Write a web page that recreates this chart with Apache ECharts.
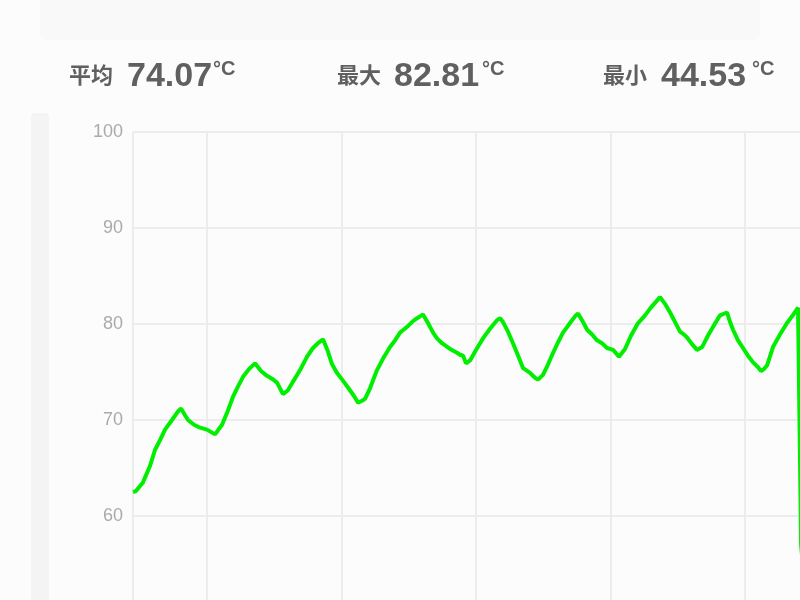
<!DOCTYPE html>
<html>
<head>
<meta charset="utf-8">
<script src="https://cdn.jsdelivr.net/npm/echarts@6/dist/echarts.min.js"></script>
<style>
html,body{margin:0;padding:0;width:800px;height:600px;overflow:hidden;background:#fcfcfc;}
#card{position:absolute;left:40px;top:-10px;width:720px;height:50px;background:#f9f9f9;border-radius:6px;}
#band{position:absolute;left:31px;top:113px;width:18px;height:600px;background:#f4f4f4;border-radius:4px;}
#chart{position:absolute;left:0;top:0;width:1000px;height:760px;}
.lbl{position:absolute;font-family:"Noto Sans CJK SC",sans-serif;font-weight:700;font-size:22px;line-height:22px;color:#606060;white-space:nowrap;}
.num{position:absolute;font-family:"Liberation Sans",Arial,sans-serif;font-weight:700;font-size:34px;line-height:34px;color:#606060;white-space:nowrap;}
.unit{position:absolute;font-family:"Liberation Sans",Arial,sans-serif;font-weight:700;font-size:20px;line-height:20px;color:#606060;white-space:nowrap;}
</style>
</head>
<body>
<div id="card"></div>
<div id="band"></div>
<div id="chart"></div>
<div id="stats"></div>
<script>
// ---- data ----
var statLabels = ['平均', '最大', '最小'];
var statValues = ['74.07', '82.81', '44.53'];
var statUnit = '°C';

var yTicks = [40, 50, 60, 70, 80, 90, 100];

var times = [4.5,4.72,5.24,5.76,6.14,6.51,6.88,7.40,7.85,8.07,
8.37,8.59,9.04,9.48,10.00,10.60,11.12,11.56,11.93,12.31,
12.68,13.12,13.57,14.02,14.46,14.83,15.21,15.65,16.02,16.40,
16.92,17.44,17.88,18.25,18.63,19.00,19.30,19.67,20.11,20.63,
20.93,21.23,21.53,21.75,22.12,22.64,23.09,23.61,23.98,24.35,
24.95,25.32,25.62,25.84,26.06,26.43,26.81,27.10,27.47,28.07,
28.59,28.81,29.04,29.26,29.56,30.00,30.52,31.04,31.56,31.79,
32.01,32.38,32.75,33.13,33.50,34.02,34.39,34.61,34.98,35.36,
35.73,36.10,36.47,36.99,37.36,37.59,37.88,38.26,38.63,39.00,
39.37,39.74,40.19,40.63,41.08,41.53,42.05,42.57,42.94,43.31,
43.68,44.05,44.43,44.80,45.17,45.47,45.69,46.06,46.43,46.81,
47.25,47.62,47.92,48.14,48.66,48.89,49.11,49.48,49.85,50.22,
50.60,50.97,51.19,51.41,51.64,52.08,52.60,53.12,53.50,53.94,
54.17,54.6,55.3,56.2];

var temps = [62.5,62.6,63.5,65.2,66.9,67.9,69.0,70.0,70.9,71.2,
70.5,70.0,69.5,69.2,69.0,68.5,69.5,71.0,72.4,73.5,
74.5,75.3,75.9,75.1,74.6,74.3,73.9,72.7,73.1,74.0,
75.2,76.6,77.5,78.0,78.4,77.1,75.8,74.9,74.1,73.1,
72.5,71.8,72.0,72.2,73.3,75.2,76.4,77.6,78.3,79.1,
79.8,80.3,80.6,80.8,81.0,80.1,79.1,78.5,78.0,77.4,
77.0,76.8,76.7,75.9,76.2,77.3,78.5,79.5,80.4,80.6,
80.2,79.2,78.0,76.7,75.4,74.9,74.4,74.2,74.7,75.8,
77.0,78.1,79.1,80.1,80.8,81.1,80.4,79.4,78.9,78.3,
78.0,77.5,77.3,76.6,77.4,78.8,80.1,80.9,81.6,82.2,
82.8,82.1,81.2,80.2,79.2,78.9,78.6,77.9,77.3,77.6,
78.8,79.7,80.4,80.9,81.2,80.2,79.4,78.3,77.5,76.7,
76.0,75.5,75.1,75.3,75.7,77.6,78.9,80.1,80.8,81.7,
57.0,49.8,44.53,46.0];

// ---- stats header ----
var statPos = [[69, 127, 213], [337, 394, 482], [603, 661, 752]];
var stats = document.getElementById('stats');
statLabels.forEach(function (l, i) {
  var a = document.createElement('div'); a.className = 'lbl'; a.textContent = l;
  a.style.left = statPos[i][0] + 'px'; a.style.top = '62px'; stats.appendChild(a);
  var b = document.createElement('div'); b.className = 'num'; b.textContent = statValues[i];
  b.style.left = statPos[i][1] + 'px'; b.style.top = '57px'; stats.appendChild(b);
  var c = document.createElement('div'); c.className = 'unit'; c.textContent = statUnit;
  c.style.left = statPos[i][2] + 'px'; c.style.top = '58px'; stats.appendChild(c);
});

// ---- chart ----
var chart = echarts.init(document.getElementById('chart'), null, {renderer: 'canvas'});
chart.setOption({
  animation: false,
  backgroundColor: 'transparent',
  grid: {left: 133, top: 132, width: 847, height: 576},
  xAxis: {
    type: 'value',
    min: 4.5,
    max: 67.47,
    minInterval: 10,
    maxInterval: 10,
    axisLine: {show: false},
    axisTick: {show: false},
    axisLabel: {show: false},
    splitLine: {show: true, lineStyle: {color: '#ececec', width: 2}}
  },
  yAxis: {
    type: 'value',
    min: yTicks[0],
    max: yTicks[yTicks.length - 1],
    interval: 10,
    axisLine: {show: false},
    axisTick: {show: false},
    axisLabel: {color: '#aaaaaa', fontSize: 18, margin: 10, fontFamily: '"Liberation Sans", Arial, sans-serif'},
    splitLine: {show: true, lineStyle: {color: '#ececec', width: 2}}
  },
  series: [{
    type: 'line',
    data: times.map(function (t, i) { return [t, temps[i]]; }),
    showSymbol: false,
    symbol: 'none',
    lineStyle: {color: '#00ee00', width: 4},
    itemStyle: {color: '#00ee00'}
  }]
});
</script>
</body>
</html>
